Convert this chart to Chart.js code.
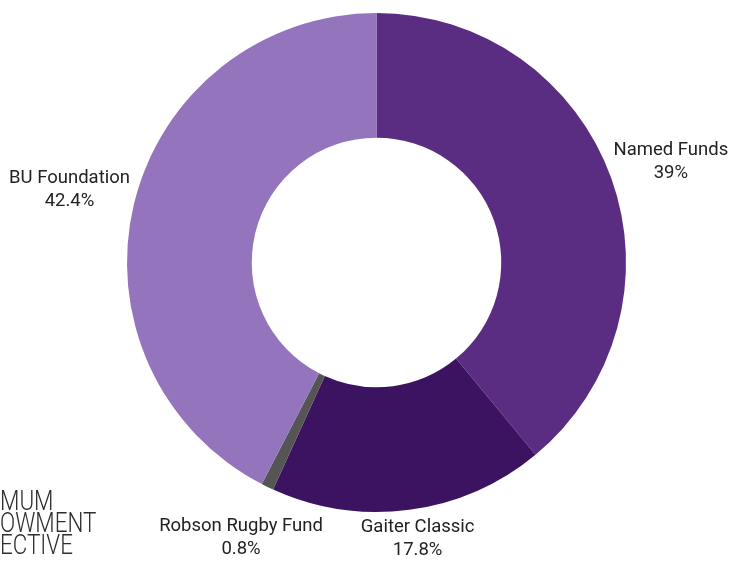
<!DOCTYPE html>
<html lang="en">
<head>
<meta charset="UTF-8" />
<title>Endowment Breakdown</title>
<style>
  body {
    margin: 0;
    background: #ffffff;
    overflow: hidden;
  }
  #wrap {
    position: relative;
    width: 743px;
    height: 572px;
  }
  #side-note {
    position: absolute;
    left: 0;
    top: 490px;
    font-family: Roboto, sans-serif;
    font-weight: 300;
    font-size: 28px;
    line-height: 22px;
    color: #2e2e2e;
    transform: scaleX(0.8);
    transform-origin: left top;
  }
</style>
</head>
<body>
  <div id="wrap">
    <canvas id="fundChart" width="743" height="572"></canvas>
    <div id="side-note">MUM<br>OWMENT<br>ECTIVE</div>
  </div>

  <script src="https://cdn.jsdelivr.net/npm/chart.js"></script>
  <script>
    // Slices, clockwise from 12 o'clock
    const funds = ['Named Funds', 'Gaiter Classic', 'Robson Rugby Fund', 'BU Foundation'];
    const shares = [39, 17.8, 0.8, 42.4];
    const sliceColors = ['#5a2d82', '#3b1360', '#555555', '#9474bc'];

    // draws the name + percent next to each slice
    const outsideLabels = {
      id: 'outsideLabels',
      afterDraw(chart) {
        const ctx = chart.ctx;
        const meta = chart.getDatasetMeta(0);
        ctx.save();
        ctx.font = '18.5px Roboto, "Noto Sans", sans-serif';
        ctx.fillStyle = '#222222';
        ctx.textAlign = 'center';
        ctx.textBaseline = 'middle';
        meta.data.forEach((arc, i) => {
          const p = arc.getProps(['x', 'y', 'startAngle', 'endAngle', 'outerRadius'], true);
          const mid = (p.startAngle + p.endAngle) / 2;
          const share = shares[i];
          const r = p.outerRadius + 6;
          const lines = [funds[i], share + '%'];
          const w = Math.max(...lines.map(t => ctx.measureText(t).width));
          const h = 46;
          let cx = p.x + Math.cos(mid) * (r + w / 2);
          let cy = p.y + Math.sin(mid) * r + Math.sin(mid) * h / 2;
          if (Math.sin(mid) < 0) cy -= 7;
          // tiny slices: drop the label a line lower so it clears its neighbour
          if (share < 2) { cx += 12; cy += 24; }
          ctx.fillText(lines[0], cx, cy - 11);
          ctx.fillText(lines[1], cx, cy + 12);
        });
        ctx.restore();
      }
    };

    const ctx = document.getElementById('fundChart').getContext('2d');
    new Chart(ctx, {
      type: 'doughnut',
      data: {
        labels: funds,
        datasets: [{
          data: shares,
          backgroundColor: sliceColors,
          borderWidth: 0
        }]
      },
      options: {
        responsive: false,
        animation: false,
        cutout: '50%',
        layout: {
          padding: { top: 13, bottom: 60, left: 127, right: 117 }
        },
        plugins: {
          legend: { display: false },
          tooltip: { enabled: false }
        }
      },
      plugins: [outsideLabels]
    });
  </script>
</body>
</html>
